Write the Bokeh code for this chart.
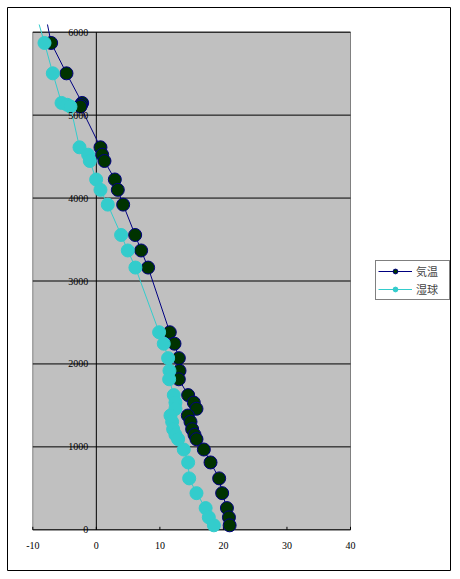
from bokeh.plotting import figure
from bokeh.models import (Range1d, ColumnDataSource, LabelSet, Legend, LegendItem,
                          CDSView, IndexFilter)
from bokeh.embed import file_html
from bokeh.resources import INLINE

# ---- data ----
# first entry: where the lines leave the top of the chart (no marker drawn there)
altitude = [6093, 5870, 5504, 5147, 5125, 5103, 4612, 4523, 4447, 4224, 4099, 3921,
            3555, 3368, 3162, 2382, 2244, 2070, 1918, 1815, 1624, 1534, 1459, 1378,
            1302, 1213, 1146, 1093, 968, 812, 620, 442, 262, 150, 54]
temp = [-7.69, -7.11, -4.70, -2.23, -2.4, -2.5, 0.65, 0.92, 1.28, 2.91, 3.38, 4.22,
        6.11, 7.05, 8.15, 11.56, 12.30, 12.98, 13.09, 12.98, 14.45, 15.34, 15.76, 14.40,
        14.82, 15.08, 15.45, 15.76, 16.92, 17.97, 19.33, 19.80, 20.55, 20.87, 20.98]
wetbulb = [-9.0, -8.16, -6.85, -5.48, -4.59, -4.07, -2.65, -1.29, -1.03, -0.03, 0.65, 1.80,
           3.90, 4.95, 6.15, 9.88, 10.61, 11.30, 11.51, 11.46, 12.19, 12.45, 12.45, 11.67,
           11.93, 12.09, 12.45, 12.87, 13.76, 14.45, 14.61, 15.76, 17.2, 17.7, 18.5]
series_names = ["気温", "湿球"]
x_ticks = [-10, 0, 10, 20, 30, 40]
x_tick_labels = [str(v) for v in x_ticks]
y_ticks = [0, 1000, 2000, 3000, 4000, 5000, 6000]
y_tick_labels = [str(v) for v in y_ticks]

x_min, x_max = -10, 40
y_min, y_max = 0, 6000

# ---- layout (pixels) ----
W, H = 451, 571
PAD = 7                      # white margin outside the chart border
px_left, px_right = 32.3, 350.0      # x = -10 and x = 40
px_top, px_bottom = 31.7, 529.3      # y = 6000 and y = 0
sx = (px_right - px_left) / (x_max - x_min)
sy = (px_bottom - px_top) / (y_max - y_min)
xr = Range1d(x_min - (px_left - PAD) / sx, x_max + (W - px_right) / sx)
yr = Range1d(y_min - (H - px_bottom) / sy, y_max + (px_top - PAD) / sy)

FONT = "Noto Sans CJK JP"

p = figure(width=W, height=H, output_backend="svg", toolbar_location=None,
           x_range=xr, y_range=yr,
           min_border_left=PAD, min_border_top=PAD, min_border_right=0,
           min_border_bottom=0)
p.background_fill_color = "white"
p.border_fill_color = "white"
p.outline_line_color = "black"
p.outline_line_width = 1
p.xaxis.visible = False
p.yaxis.visible = False
p.xgrid.visible = False
p.ygrid.visible = False

# plot area
p.quad(left=[x_min], right=[x_max], bottom=[y_min], top=[y_max],
       fill_color="#C0C0C0", line_color="#808080", line_width=1, level="image")
# horizontal grid lines
p.segment(x0=[x_min] * len(y_ticks), y0=y_ticks, x1=[x_max] * len(y_ticks), y1=y_ticks,
          line_color="black", line_width=1, level="underlay")
# value axis at x = 0
p.segment(x0=[0], y0=[y_min], x1=[0], y1=[y_max], line_color="black",
          line_width=1, level="underlay")
# x axis ticks (pointing up into the plot area, 3 px)
tick_h = 3 / sy
p.segment(x0=x_ticks, y0=[y_min] * len(x_ticks), x1=x_ticks,
          y1=[y_min + tick_h] * len(x_ticks), line_color="black", line_width=1,
          level="underlay")

ysrc = ColumnDataSource(dict(x=[0] * len(y_ticks), y=y_ticks, t=y_tick_labels))
p.add_layout(LabelSet(x="x", y="y", text="t", source=ysrc, x_offset=-8,
                      text_align="right", text_baseline="middle",
                      text_font=FONT, text_font_size="10px", text_color="black"))
xsrc = ColumnDataSource(dict(x=x_ticks, y=[y_min] * len(x_ticks), t=x_tick_labels))
p.add_layout(LabelSet(x="x", y="y", text="t", source=xsrc, y_offset=-16,
                      text_align="center", text_baseline="middle",
                      text_font=FONT, text_font_size="10px", text_color="black"))

# series
src = ColumnDataSource(dict(alt=altitude, t=temp, w=wetbulb))
marker_view = CDSView(filter=IndexFilter(list(range(1, len(altitude)))))
l1 = p.line("t", "alt", source=src, line_color="#000080", line_width=1)
m1 = p.scatter("t", "alt", source=src, view=marker_view, size=13, fill_color="#003300",
               line_color="#000080", line_width=1)
l2 = p.line("w", "alt", source=src, line_color="#33CCCC", line_width=1)
m2 = p.scatter("w", "alt", source=src, view=marker_view, size=13, fill_color="#33CCCC",
               line_color="#33CCCC", line_width=1)

legend = Legend(items=[LegendItem(label=series_names[0], renderers=[l1, m1]),
                       LegendItem(label=series_names[1], renderers=[l2, m2])],
                location=(368, 271), orientation="vertical",
                border_line_color="black", border_line_width=1,
                background_fill_color="white", background_fill_alpha=1,
                label_text_font=FONT, label_text_font_size="11px",
                glyph_width=34, glyph_height=12, spacing=2, padding=2,
                label_standoff=4, margin=0, label_width=31)
p.add_layout(legend)

open("out.html", "w").write(file_html(p, INLINE))
